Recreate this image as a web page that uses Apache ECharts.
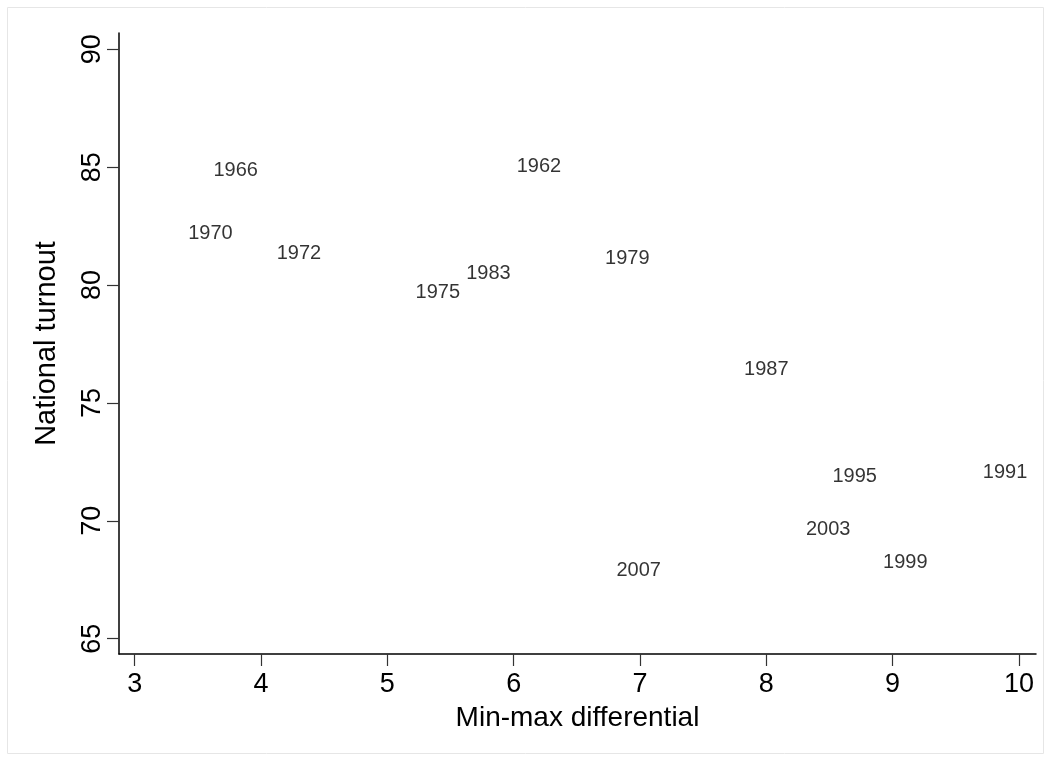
<!DOCTYPE html>
<html>
<head>
<meta charset="utf-8">
<script src="https://cdn.jsdelivr.net/npm/echarts@6/dist/echarts.min.js"></script>
<style>
html,body{margin:0;padding:0;background:#fff;}
#chart{width:1051px;height:761px;}
</style>
</head>
<body>
<div id="chart"></div>
<script>
const years = ['1962','1966','1970','1972','1975','1979','1983','1987','1991','1995','1999','2003','2007'];
const minmax = [6.20, 3.80, 3.60, 4.30, 5.40, 6.90, 5.80, 8.00, 9.89, 8.70, 9.10, 8.49, 6.99];
const turnout = [85.03, 84.87, 82.17, 81.34, 79.67, 81.13, 80.47, 76.40, 72.07, 71.87, 68.24, 69.65, 67.89];
const xTicks = [3, 4, 5, 6, 7, 8, 9, 10];
const yTicks = [65, 70, 75, 80, 85, 90];
const xTitle = 'Min-max differential';
const yTitle = 'National turnout';

const points = years.map((y, i) => ({ value: [minmax[i], turnout[i]], name: y }));
const font = 'Liberation Sans, Arial, sans-serif';

const chart = echarts.init(document.getElementById('chart'), null, { renderer: 'canvas' });
chart.setOption({
  backgroundColor: '#fff',
  animation: false,
  graphic: [{
    type: 'rect',
    shape: { x: 7.5, y: 7.5, width: 1036, height: 746 },
    style: { fill: 'none', stroke: '#e6e6e6', lineWidth: 1 },
    silent: true, z: -1
  }],
  grid: { left: 119, right: 15, top: 33, bottom: 107, containLabel: false },
  xAxis: {
    type: 'value',
    min: 2.876, max: 10.135,
    splitLine: { show: false },
    axisLine: { show: true, onZero: false, lineStyle: { color: '#000', width: 1.5 } },
    axisTick: { show: true, length: 12, customValues: xTicks, lineStyle: { color: '#333', width: 1.2 } },
    axisLabel: { customValues: xTicks, fontFamily: font, fontSize: 27, color: '#000', margin: 17 },
    name: xTitle, nameLocation: 'middle', nameGap: 50,
    nameTextStyle: { fontFamily: font, fontSize: 28, color: '#000' }
  },
  yAxis: {
    type: 'value',
    min: 64.35, max: 90.69,
    splitLine: { show: false },
    axisLine: { show: true, onZero: false, lineStyle: { color: '#000', width: 1.5 } },
    axisTick: { show: true, length: 12, customValues: yTicks, lineStyle: { color: '#333', width: 1.2 } },
    axisLabel: { customValues: yTicks, fontFamily: font, fontSize: 27, color: '#000', rotate: 90, margin: 13 },
    name: yTitle, nameLocation: 'middle', nameGap: 58, nameRotate: 90,
    nameTextStyle: { fontFamily: font, fontSize: 29, color: '#000' }
  },
  series: [{
    type: 'scatter',
    data: points,
    symbolSize: 1,
    itemStyle: { color: 'rgba(0,0,0,0)' },
    label: {
      show: true, position: 'inside',
      formatter: p => p.name,
      fontFamily: font, fontSize: 20, color: '#000', textBorderWidth: 0
    }
  }]
});
</script>
</body>
</html>
